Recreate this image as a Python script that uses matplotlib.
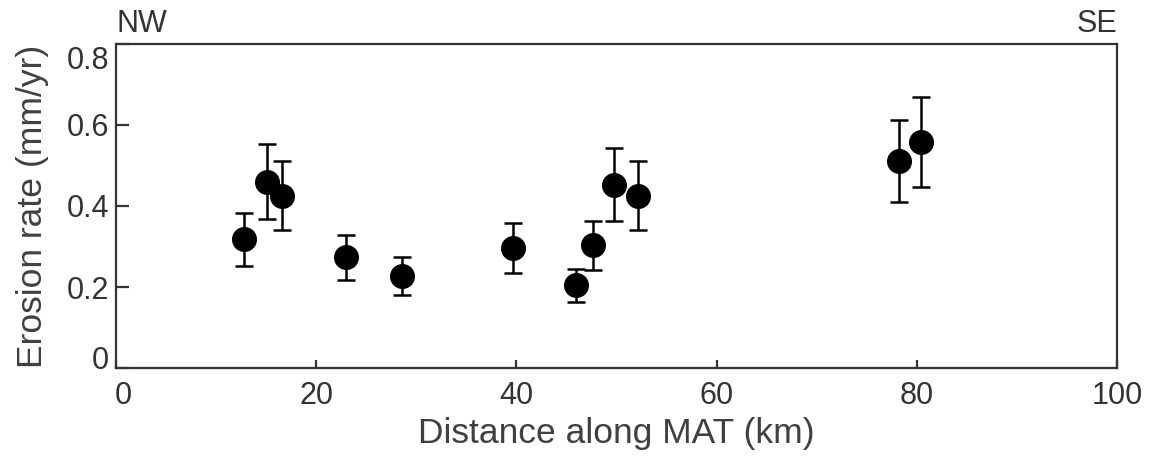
import matplotlib.pyplot as plt
import matplotlib.transforms as mtransforms

plt.rcParams['font.family'] = ['Liberation Sans', 'DejaVu Sans']

# erosion rates along the MAT, NW to SE
distance = [12.8, 15.1, 16.6, 23.0, 28.6, 39.7, 46.0, 47.6, 49.7, 52.1, 78.2, 80.4]
rate = [0.318, 0.460, 0.425, 0.273, 0.227, 0.296, 0.204, 0.303, 0.453, 0.425, 0.512, 0.558]
rate_err = [0.065, 0.092, 0.085, 0.055, 0.046, 0.061, 0.041, 0.061, 0.091, 0.085, 0.101, 0.112]

xticks = [0, 20, 40, 60, 80, 100]
yticks = [0, 0.2, 0.4, 0.6, 0.8]
ytick_labels = ['0', '0.2', '0.4', '0.6', '0.8']

dark = '#333333'

fig = plt.figure(figsize=(11.51, 4.61), dpi=100)
ax = fig.add_axes([0.1008, 0.2017, 0.8697, 0.7029])

ax.errorbar(distance, rate, yerr=rate_err, fmt='o', color='black', markersize=17,
            elinewidth=1.8, capsize=6.5, capthick=1.8, zorder=3)

ax.set_xlim(0, 100)
ax.set_ylim(0, 0.8)
ax.set_xticks(xticks)
ax.set_yticks(yticks)
ax.set_yticklabels(ytick_labels)

for side in ax.spines:
    ax.spines[side].set_linewidth(1.6)
    ax.spines[side].set_color(dark)

ax.tick_params(axis='x', direction='in', length=6, width=1.6, colors=dark,
               labelsize=22, pad=9, labelcolor='#333333')
ax.tick_params(axis='y', direction='in', length=9.5, width=1.6, colors=dark,
               labelsize=22, pad=5, labelcolor='#333333')

# nudge the end labels so they sit inside the frame corners
labels = ax.get_yticklabels()
shift = {0: 11, 4: -14}
for i, dy in shift.items():
    off = mtransforms.ScaledTranslation(0, dy / 100, fig.dpi_scale_trans)
    labels[i].set_transform(labels[i].get_transform() + off)
xl = ax.get_xticklabels()
off = mtransforms.ScaledTranslation(7 / 100, 0, fig.dpi_scale_trans)
xl[0].set_transform(xl[0].get_transform() + off)

ax.set_xlabel('Distance along MAT (km)', fontsize=25.5, color='#404040', labelpad=5)
ax.set_ylabel('Erosion rate (mm/yr)', fontsize=25.5, color='#404040', labelpad=13)

ax.text(0, 1.015, 'NW', transform=ax.transAxes, ha='left', va='bottom',
        fontsize=22, color=dark)
ax.text(1, 1.015, 'SE', transform=ax.transAxes, ha='right', va='bottom',
        fontsize=22, color=dark)

fig.savefig('out.png', dpi=100)
